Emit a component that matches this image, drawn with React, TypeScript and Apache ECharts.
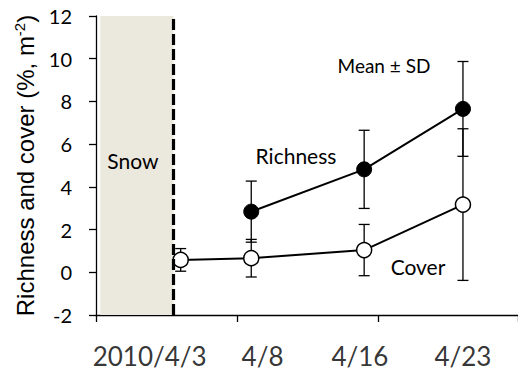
import React, { useEffect, useRef } from "react";
import * as echarts from "echarts";

// ---- data ----
const axisOrigin = "2010-03-28";
const sampleDates = ["2010-04-03", "2010-04-08", "2010-04-16", "2010-04-23"];
const richnessMean: (number | null)[] = [null, 2.84, 4.82, 7.65];
const richnessSD: (number | null)[] = [null, 1.43, 1.83, 2.22];
const coverMean = [0.58, 0.66, 1.04, 3.17];
const coverSD = [0.53, 0.88, 1.2, 3.55];
const dateLabels = ["2010/4/3", "4/8", "4/16", "4/23"];
const dateLabelAt = [3.8, 11.8, 18.7, 26.0]; // label anchors in days from axis origin
const snowStart = 0.3;
const snowEnd = 5.5;
const yMin = -2;
const yMax = 12;
const yInterval = 2;

const dayOf = (d: string) => (Date.parse(d) - Date.parse(axisOrigin)) / 86400000;

export default function App() {
  const ref = useRef<HTMLDivElement>(null);
  useEffect(() => {
    if (!ref.current) return;
    const chart = echarts.init(ref.current, null, { renderer: "svg" });
    const xs = sampleDates.map(dayOf);
    const richPts: number[][] = [];
    const richErr: number[][] = [];
    xs.forEach((x, i) => {
      const m = richnessMean[i];
      const s = richnessSD[i];
      if (m != null && s != null) {
        richPts.push([x, m]);
        richErr.push([x, m, s]);
      }
    });
    const coverPts = xs.map((x, i) => [x, coverMean[i]]);
    const coverErr = xs.map((x, i) => [x, coverMean[i], coverSD[i]]);

    const errRender = (params: any, api: any) => {
      const x = api.value(0);
      const m = api.value(1);
      const s = api.value(2);
      const top = api.coord([x, m + s]);
      const bot = api.coord([x, m - s]);
      const hw = 5.5;
      const st = { stroke: "#000", lineWidth: 1.3 };
      return {
        type: "group",
        children: [
          { type: "line", shape: { x1: top[0], y1: top[1], x2: bot[0], y2: bot[1] }, style: st },
          { type: "line", shape: { x1: top[0] - hw, y1: top[1], x2: top[0] + hw, y2: top[1] }, style: st },
          { type: "line", shape: { x1: bot[0] - hw, y1: bot[1], x2: bot[0] + hw, y2: bot[1] }, style: st },
        ],
      };
    };

    const textFont = "Lato";
    chart.setOption({
      animation: false,
      backgroundColor: "#fff",
      grid: { left: 96, right: 0, top: 16, bottom: 57 },
      xAxis: {
        type: "value",
        min: 0,
        max: 29.9,
        interval: 10,
        axisLine: { onZero: false, lineStyle: { color: "#000", width: 1.3 } },
        axisTick: { show: true, length: 7, inside: false, lineStyle: { color: "#000", width: 1.3 } },
        axisLabel: { show: false },
        splitLine: { show: false },
      },
      yAxis: {
        type: "value",
        min: yMin,
        max: yMax,
        interval: yInterval,
        axisLine: { show: true, onZero: false, lineStyle: { color: "#000", width: 1.3 } },
        axisTick: { show: true, length: 7, lineStyle: { color: "#000", width: 1.3 } },
        axisLabel: { fontFamily: textFont, fontSize: 20, color: "#000", margin: 24 },
        splitLine: { show: false },
        name: "Richness and cover (%, m{sup|-2})",
        nameLocation: "middle",
        nameGap: 50,
        nameTextStyle: {
          fontFamily: "Liberation Sans",
          fontSize: 24,
          color: "#000",
          rich: {
            sup: { fontFamily: "Liberation Sans", fontSize: 15, color: "#000", padding: [0, 0, 13, 0] },
          },
        },
      },
      series: [
        {
          type: "line",
          data: [],
          silent: true,
          markArea: {
            silent: true,
            itemStyle: { color: "#ebe8de" },
            label: {
              show: true,
              position: "inside",
              offset: [-4, -5],
              formatter: "Snow",
              fontFamily: textFont,
              fontSize: 21,
              color: "#000",
            },
            data: [[{ xAxis: snowStart }, { xAxis: snowEnd }]],
          },
          markLine: {
            silent: true,
            symbol: "none",
            label: { show: false },
            lineStyle: { color: "#000", width: 3.2, type: [11, 4] },
            data: [{ xAxis: snowEnd }],
          },
        },
        {
          type: "custom",
          renderItem: errRender,
          data: richErr,
          encode: { x: 0, y: 1 },
          z: 3,
        },
        {
          type: "custom",
          renderItem: errRender,
          data: coverErr,
          encode: { x: 0, y: 1 },
          z: 3,
        },
        {
          type: "line",
          data: richPts,
          symbol: "circle",
          symbolSize: 15,
          lineStyle: { color: "#000", width: 2 },
          itemStyle: { color: "#000", borderColor: "#000", borderWidth: 1 },
          z: 4,
        },
        {
          type: "line",
          data: coverPts,
          symbol: "circle",
          symbolSize: 15,
          showAllSymbol: true,
          lineStyle: { color: "#000", width: 2 },
          itemStyle: { color: "#fff", borderColor: "#000", borderWidth: 1.5 },
          z: 4,
        },
        {
          type: "scatter",
          data: dateLabelAt.map((x, i) => ({ value: [x, yMin], name: dateLabels[i] })),
          symbolSize: 0,
          clip: false,
          silent: true,
          label: {
            show: true,
            position: "inside",
            offset: [0, 41],
            formatter: (p: any) => p.name,
            fontFamily: textFont,
            fontSize: 26,
            color: "#000",
          },
        },
      ],
      graphic: [
        {
          type: "text",
          x: 296,
          y: 155,
          style: { text: "Richness", font: `21px ${textFont}`, fill: "#000", align: "center", verticalAlign: "middle" },
        },
        {
          type: "text",
          x: 418,
          y: 266,
          style: { text: "Cover", font: `21px ${textFont}`, fill: "#000", align: "center", verticalAlign: "middle" },
        },
        {
          type: "text",
          x: 384,
          y: 65,
          style: { text: "Mean ± SD", font: `19px ${textFont}`, fill: "#000", align: "center", verticalAlign: "middle" },
        },
      ],
    });
    return () => chart.dispose();
  }, []);
  return (
    <div
      ref={ref}
      style={{ position: "fixed", left: 0, top: 0, width: 518, height: 372, background: "#fff" }}
    />
  );
}
